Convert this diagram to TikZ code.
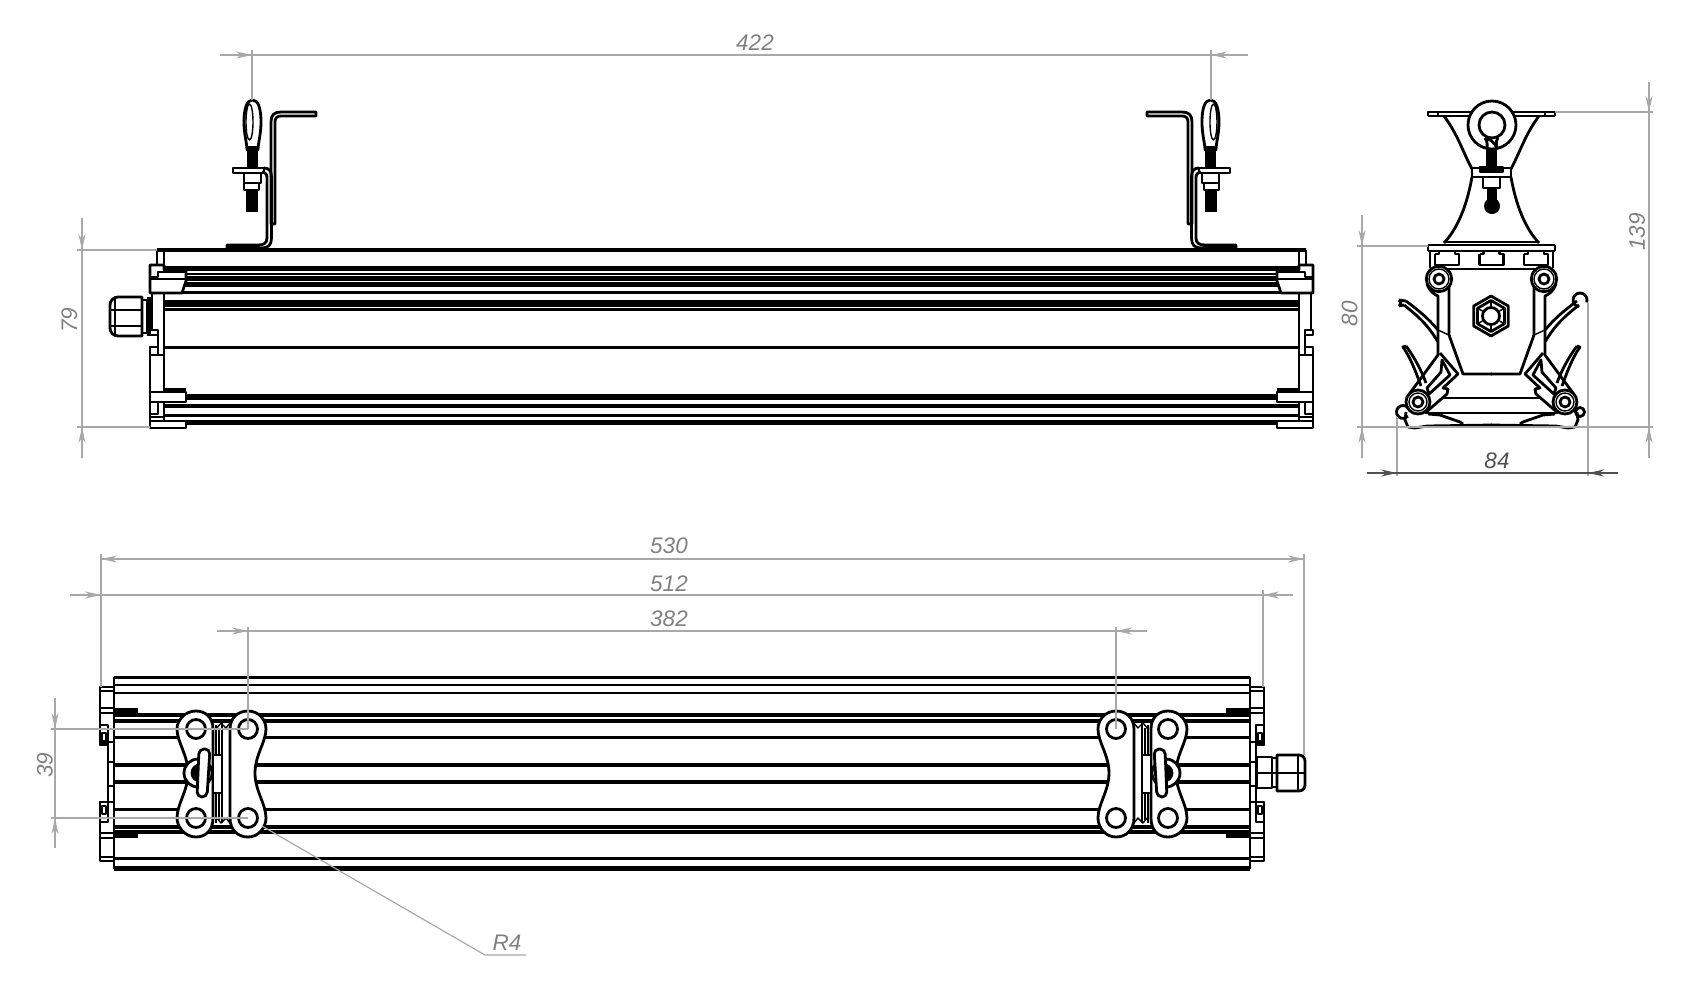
\documentclass[tikz,border=0pt]{standalone}
\usepackage{fontspec}
\setmainfont{Liberation Sans}
\usepackage{xcolor}
\usetikzlibrary{arrows.meta}
\definecolor{dimline}{HTML}{A8A8A8}
\definecolor{dimtext}{HTML}{808080}
\definecolor{dimdark}{HTML}{505050}

\begin{document}
\begin{tikzpicture}
	[x=.1mm,y=-.1mm,line join=round,
	outl/.style={line width=.28mm,black},
	fine/.style={line width=.14mm,black},
	dimension/.style={line width=.12mm,dimline},
	tipped/.style={-{Stealth[length=1.6mm,width=.7mm,inset=.5mm]}},
	dimlabel/.style={font=\fontsize{6.4}{7}\selectfont\itshape,text=dimtext,inner sep=0pt}]
	\useasboundingbox (0,0) rectangle (1692,1000);
	% front view
	\draw[line width=.35mm] (157,250) -- (1306,250);
	\foreach \y/\w in {268/.5,274/.14,278/.5,284/.5,292/.3,303/.7,309/.3,347/.3,397/.6,406/.4,415/.3,422/.5}
		\draw[black,line width=\w mm] (164,\y) -- (1299,\y);
	\foreach \xo/\xs in {0/1,146.3/-1} {
		\begin{scope}[xshift=\xo mm,xscale=\xs]
			\draw[outl] (157,250) -- (157,265) (164,250) -- (164,265);
			\draw[outl,fill=white] (150,265) -- (164,265) -- (164,270) -- (186,270) -- (186,281) -- (182,293) -- (150,293) -- cycle;
			\draw[outl] (150,277) -- (158,277) -- (158,272) -- (186,272);
			\draw[fine] (150,279) -- (186,279);
			\draw[outl] (164,293) -- (164,392);
			\draw[outl] (152,293) -- (152,330) -- (158,330) -- (158,355);
			\draw[outl] (158,330) -- (150,330) -- (150,335) -- (158,335);
			\draw[outl] (158,347) -- (150,347) -- (150,392) (150,355) -- (164,355);
			\draw[line width=.5mm] (164,390) -- (186,390);
			\draw[outl,fill=white] (150,392) rectangle (186,402);
			\draw[outl,fill=white] (150,402) -- (150,428) -- (186,428) -- (186,421) -- (150,421);
			\draw[fine] (158,402) -- (158,414) -- (150,414) (150,417) -- (164,417) (164,402) -- (164,421);
			% eye bolt and bracket
			\draw[outl,fill=white] (252.5,100) .. controls (258,100) and (261,108) .. (261,122) .. controls (261,135) and (258,143) .. (258,150) -- (247,150) .. controls (247,143) and (244,135) .. (244,122) .. controls (244,108) and (247,100) .. (252.5,100) -- cycle;
			\draw[fine] (249.5,122) ellipse (3.5 and 18);
			\fill (247,146) rectangle (258,168);
			\draw[outl] (233,168) rectangle (264,173);
			\draw[outl,fill=white] (244,173) rectangle (261,183);
			\draw[outl,fill=white] (244,183) rectangle (259,190);
			\fill (246,190) rectangle (258,212);
			\draw[outl] (316,112) -- (281,112) .. controls (274,112) and (271,115) .. (271,122) -- (271,224) -- (275,224) -- (275,122) .. controls (275,118) and (277,116) .. (281,116) -- (316,116) -- cycle;
			\draw[outl] (264,168) .. controls (269,168) and (271.5,171) .. (271.5,177) -- (271.5,238) .. controls (271.5,245) and (268,248) .. (262,248) -- (227,248) -- (227,245) -- (258,245) .. controls (264,245) and (267,243) .. (267,238) -- (267,178) .. controls (267,174) and (266,173) .. (262,172);
		\end{scope}
	}
	\draw[outl,fill=white] (142,297) [rounded corners=.8mm] -- (110,297) -- (110,336) [sharp corners] -- (142,336) -- cycle;
	\draw[fine] (115,297) -- (115,336) (110,310) -- (142,310) (110,326) -- (142,326);
	\draw[outl] (142,300) rectangle (147,333);
	\draw[line width=.45mm] (149,297) -- (149,336);
	% side view
	\foreach \xo/\xs in {0/1,298.3/-1} {
		\begin{scope}[xshift=\xo mm,xscale=\xs]
			\draw[outl] (1428,116) -- (1428,112) -- (1492,112) (1428,116) -- (1492,116);
			\draw[fine] (1438,112) -- (1438,116);
			\draw[outl] (1444,116) .. controls (1458,135) and (1462,150) .. (1472,169);
			\draw[outl] (1472,177) .. controls (1467,205) and (1458,228) .. (1444,243);
			\draw[fine] (1444,242) -- (1492,242);
			\draw[outl] (1428,245) -- (1492,245) (1428,251) -- (1492,251) (1428,245) -- (1428,251);
			\draw[outl] (1430,251) -- (1430,268) (1446,269) -- (1492,269);
			% pivots and legs
			\draw[outl] (1427,284) .. controls (1430,292) and (1434,294) .. (1438,296) -- (1438,355) -- (1410,393);
			\draw[outl] (1449,285) -- (1449,335) -- (1463,374) -- (1492,374);
			\draw[fine] (1438,330) -- (1449,335);
			\draw[outl,fill=white] (1439,279) circle [radius=1.27mm];
			\draw[fine] (1439,279) circle [radius=1mm];
			\draw[outl] (1439,279) circle [radius=.5mm];
			\draw[outl] (1440,353) -- (1458,374) -- (1443,388) -- (1448,389) -- (1447,394) -- (1425,413);
			\draw[outl] (1442,360) -- (1450,375) -- (1429,394) -- (1427,388) -- (1441,372) -- cycle;
			\draw[outl] (1443,398) -- (1492,398);
			\draw[outl] (1425,413) -- (1492,413);
			\draw[outl] (1406,412) -- (1405,420) -- (1408,427) -- (1415,428) -- (1427,426) -- (1492,425);
			\draw[outl] (1428,414) -- (1440,415) -- (1460,422) -- (1463,424);
			\draw[outl,fill=white] (1418,402) circle [radius=1.2mm];
			\draw[fine] (1418,402) circle [radius=.9mm];
			\draw[outl] (1418,402) circle [radius=.5mm];
			% wings
			\draw[outl] (1438,330) .. controls (1428,318) and (1418,310) .. (1406,301);
			\draw[outl] (1438,342) .. controls (1428,325) and (1418,316) .. (1404,305);
			\draw[outl] (1406,346) -- (1403,347) .. controls (1412,360) and (1418,378) .. (1421,386);
			\draw[outl] (1406,346) .. controls (1415,358) and (1422,372) .. (1426,383);
		\end{scope}
	}
	\foreach \cx in {1435,1479.5,1524}
		\draw[outl] (\cx,254) -- (\cx+4,254) -- (\cx+4,251) (\cx,254) -- (\cx,265) -- (\cx+24,265) -- (\cx+24,254) -- (\cx+20,254) -- (\cx+20,251);
	\draw[outl,fill=white] (1492,125) circle [radius=2.4mm];
	\draw[outl] (1492,125) circle [radius=1.3mm];
	\draw[outl] (1485,138) .. controls (1488,142) and (1487,146) .. (1487,148) (1498,138) .. controls (1495,142) and (1497,146) .. (1497,148) (1485,138) .. controls (1490,139) and (1494,142) .. (1497,148);
	\fill (1486,148) rectangle (1497,168);
	\draw[outl] (1472,168) rectangle (1511,177);
	\draw[outl,fill=black] (1480,167) rectangle (1503,172);
	\draw[outl,fill=white] (1483,177) rectangle (1500,188);
	\fill (1487,188) rectangle (1497,204);
	\fill (1492,206) circle [radius=.8mm];
	\coordinate (hexc) at (1491,316);
	\draw[outl] (hexc) +(30:2mm) -- +(90:2mm) -- +(150:2mm) -- +(210:2mm) -- +(270:2mm) -- +(330:2mm) -- cycle;
	\draw[outl] (hexc) +(30:1.55mm) -- +(90:1.55mm) -- +(150:1.55mm) -- +(210:1.55mm) -- +(270:1.55mm) -- +(330:1.55mm) -- cycle;
	\foreach \a in {30,90,150,210,270,330}
		\draw[fine] (hexc) +(\a:.85mm) -- +(\a:1.55mm);
	\draw[outl,fill=white] (hexc) circle [radius=.85mm];
	\draw[outl] (1586.6,302.4) arc [start angle=-20,end angle=260,radius=.7mm];
	\draw[outl] (1408,407.8) arc [start angle=40,end angle=320,radius=.65mm];
	\draw[outl] (1580,412) circle [radius=.45mm];
	\draw[outl] (1399,300) -- (1406,301) (1399,306) -- (1404,305) (1399,300) -- (1401,303) -- (1399,306);
	% plan view
	\foreach \y/\w in {677/.3,685/.2,693/.25,715/.38,721/.38,737/.3,765/.35,782/.4,809/.3,827/.38,832/.38,858/.3,867/.2,869/.3}
		\draw[black,line width=\w mm] (114,\y) -- (1250,\y);
	\foreach \xo/\xs in {0/1,136.4/-1} {
		\begin{scope}[xshift=\xo mm,xscale=\xs]
			\draw[outl] (114,677) -- (114,869);
			\draw[outl] (114,687) -- (100,687) -- (100,745) -- (108,745) -- (108,802) -- (100,802) -- (100,861) -- (114,861);
			\foreach \y in {708,713,833,838}
				\draw[fine] (100,\y) -- (114,\y);
			\draw[fine] (100,691) -- (114,691) (100,857) -- (114,857);
			\fill (114,708) rectangle (138,713);
			\fill (114,833) rectangle (138,838);
			\draw[outl] (100,725) rectangle (108,745) (100,802) rectangle (108,822);
			\draw[fine] (102,733) rectangle (106,741) (102,806) rectangle (106,814);
			\fill (100,741) rectangle (108,745);
			\foreach \y in {742,762,786,802}
				\draw[fine] (108,\y) -- (114,\y);
			% plates and eye bolt
			\fill[white] (213,723) rectangle (230,823);
			\draw[fine] (216,725) -- (216,823) (219,728) -- (219,820) (222,723) -- (222,823);
			\draw[fine] (216,729) -- (221,723) -- (226,728) -- (230,723) (216,817) -- (221,823) -- (226,818) -- (230,823);
			\draw[outl,fill=white] (230,729) .. controls (230,718) and (238,711) .. (248,711) .. controls (259,711) and (266,720) .. (266,729) .. controls (266,742) and (255,755) .. (255,773) .. controls (255,791) and (266,804) .. (266,818) .. controls (266,827) and (259,837) .. (248,837) .. controls (238,837) and (230,830) .. (230,818) -- cycle;
			\draw[outl,fill=white] (213,729) .. controls (213,718) and (206,711) .. (196,711) .. controls (185,711) and (177,720) .. (177,729) .. controls (177,742) and (188,755) .. (188,773) .. controls (188,791) and (177,804) .. (177,818) .. controls (177,827) and (185,837) .. (196,837) .. controls (206,837) and (213,830) .. (213,818) -- cycle;
			\foreach \hx in {196,248} \foreach \hy in {729,818}
				\draw[outl] (\hx,\hy) circle [radius=.95mm];
			\draw[outl,fill=white] (213,755) rectangle (222,793);
			\draw[outl,fill=white] (198,773) circle [radius=1.4mm];
			\draw[outl] (200,773) circle [radius=.8mm];
			\draw[line width=.5mm] (200,773) circle [radius=.5mm];
			\draw[outl,fill=white,rounded corners=.5mm] (199,749) -- (210,749) -- (207,797) -- (197,797) -- cycle;
		\end{scope}
	}
	\draw[outl,fill=white] (1257,757) rectangle (1272,788);
	\draw[outl] (1272,758) rectangle (1277,787);
	\draw[outl,fill=white] (1277,755) [rounded corners=.6mm] -- (1305,755) -- (1305,791) [sharp corners] -- (1277,791) -- cycle;
	\draw[fine] (1298,755) -- (1298,791) (1257,773) -- (1305,773);
	% dimensions
	\draw[dimension] (252,50) -- (252,100) (1211,50) -- (1211,100) (220,55) -- (1248,55);
	\draw[dimension,tipped] (220,55) -- (252,55);
	\draw[dimension,tipped] (1248,55) -- (1211,55);
	\node[dimlabel] (dimfour) at (755,42.5) {422};
	\draw[dimension] (77,250) -- (157,250) (77,427) -- (150,427) (82,218) -- (82,458);
	\draw[dimension,tipped] (82,218) -- (82,250);
	\draw[dimension,tipped] (82,458) -- (82,427);
	\node[dimlabel,rotate=90] (dimseven) at (69.5,320) {79};
	\draw[dimension] (1357,246) -- (1428,246) (1357,427) -- (1653,427) (1362,215) -- (1362,458);
	\draw[dimension,tipped] (1362,215) -- (1362,246);
	\draw[dimension,tipped] (1362,458) -- (1362,427);
	\node[dimlabel,rotate=90] (dimeighty) at (1349.5,313.5) {80};
	\draw[dimension] (1555,112) -- (1653,112) (1649,82) -- (1649,458);
	\draw[dimension,tipped] (1649,82) -- (1649,112);
	\draw[dimension,tipped] (1649,458) -- (1649,427);
	\node[dimlabel,rotate=90] (dimone) at (1637,232) {139};
	\draw[dimension] (1397,417) -- (1397,476) (1588,303) -- (1588,476);
	\draw[dimension,dimdark] (1367,473) -- (1618,473);
	\draw[dimension,dimdark,tipped] (1367,473) -- (1397,473);
	\draw[dimension,dimdark,tipped] (1618,473) -- (1588,473);
	\node[dimlabel,text=dimdark] (dimwidth) at (1497,460.5) {84};
	\draw[dimension] (101,554) -- (101,687) (1304,554) -- (1304,755) (1263,590) -- (1263,687) (248,627) -- (248,729) (1116,627) -- (1116,729);
	\draw[dimension,tipped] (135,559) -- (101,559);
	\draw[dimension,tipped] (1270,559) -- (1304,559);
	\draw[dimension] (101,559) -- (1304,559) (70,595) -- (1293,595) (217,631) -- (1147,631);
	\draw[dimension,tipped] (70,595) -- (101,595);
	\draw[dimension,tipped] (1293,595) -- (1263,595);
	\draw[dimension,tipped] (217,631) -- (248,631);
	\draw[dimension,tipped] (1147,631) -- (1116,631);
	\node[dimlabel] (dimlength) at (669,545.5) {530};
	\node[dimlabel] (dimbody) at (669,583.5) {512};
	\node[dimlabel] (dimholes) at (669,619) {382};
	\draw[dimension] (51,729) -- (248,729) (51,818) -- (248,818) (55,698) -- (55,848);
	\draw[dimension,tipped] (55,698) -- (55,729);
	\draw[dimension,tipped] (55,848) -- (55,818);
	\node[dimlabel,rotate=90] (dimpitch) at (45,765) {39};
	\draw[dimension] (262,826) -- (485,955) -- (526,955);
	\node[dimlabel] (dimradius) at (507,943) {R4};
\end{tikzpicture}
\end{document}
